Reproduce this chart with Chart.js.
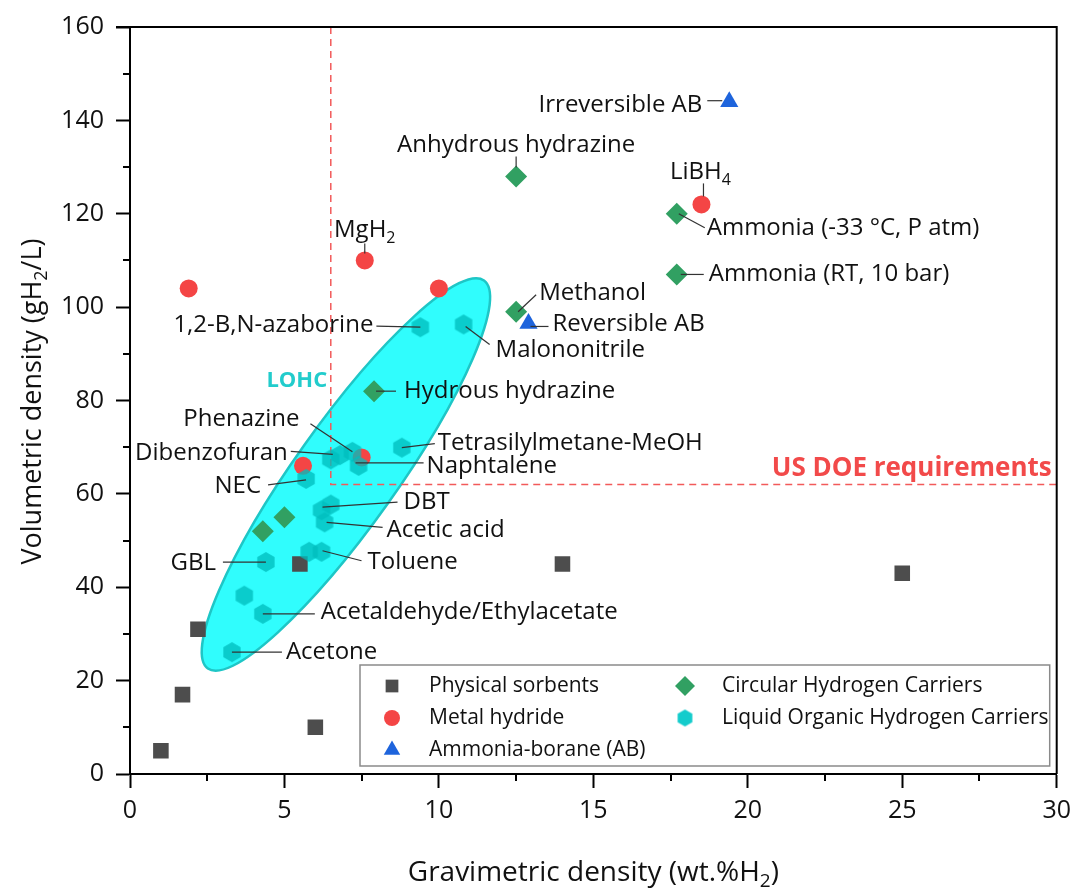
<!DOCTYPE html>
<html>
<head>
<meta charset="utf-8">
<script src="https://cdn.jsdelivr.net/npm/chart.js@4.4.1/dist/chart.umd.min.js"></script>
<style>
  html, body { margin: 0; padding: 0; background: #fff; }
  #wrap { width: 1079px; height: 888px; position: relative; }
</style>
</head>
<body>
<div id="wrap"><canvas id="chart"></canvas></div>
<script>
(function () {
  'use strict';

  // --- Data ---

  var sorbentX = [1.0, 1.7, 2.2, 5.5, 6.0, 14.0, 25.0];
  var sorbentY = [5, 17, 31, 45, 10, 45, 43];

  var hydrideX = [1.9, 7.6, 10.0, 18.5, 5.6, 7.5];
  var hydrideY = [104, 110, 104, 122, 66, 67.8];

  var abX = [19.4, 12.9];
  var abY = [144, 96.5];

  var carrierX = [12.5, 17.7, 17.7, 12.5, 7.9, 4.3, 5.0];
  var carrierY = [128, 120, 107, 99, 82, 52, 55];

  var lohcX = [9.4, 10.8, 8.8, 7.2, 6.5, 6.8, 7.4, 5.7, 6.2, 6.5, 6.3, 5.8, 6.2, 4.4, 3.7, 4.3, 3.3];
  var lohcY = [95.7, 96.3, 69.9, 69, 67.4, 68.3, 66, 63.2, 56.5, 57.7, 53.9, 47.6, 47.6, 45.4, 38.2, 34.3, 26.1];

  var xTicks = [0, 5, 10, 15, 20, 25, 30];
  var yTicks = [0, 20, 40, 60, 80, 100, 120, 140, 160];

  // US DOE targets
  var doeX = 6.5;
  var doeY = 62;

  // LOHC region: ellipse between two tips (data units), half width in px
  var lohcTips = [[2.52, 22.6], [11.46, 105.7]];
  var lohcLabelAt = [5.4, 84.2];

  var seriesNames = ['Physical sorbents', 'Metal hydride', 'Ammonia-borane (AB)',
    'Circular Hydrogen Carriers', 'Liquid Organic Hydrogen Carriers'];

  // --- Styling ---

  var FONT = '"Open Sans", sans-serif';
  var colors = {
    sorbent: '#4d4d4d',
    hydride: '#f44545',
    ab: '#1e64dc',
    carrier: '#31a062',
    lohc: 'rgba(0,190,190,0.78)',
    lohcLegend: '#14cccc'
  };

  function hexCanvas(r, color) {
    var c = document.createElement('canvas');
    var s = Math.ceil(r * 2 + 2);
    c.width = s; c.height = s;
    var g = c.getContext('2d');
    g.fillStyle = color;
    g.beginPath();
    for (var k = 0; k < 6; k++) {
      var a = -Math.PI / 2 + k * Math.PI / 3;
      var px = s / 2 + r * Math.cos(a), py = s / 2 + r * Math.sin(a);
      if (k === 0) g.moveTo(px, py); else g.lineTo(px, py);
    }
    g.closePath();
    g.fill();
    return c;
  }

  var hexPoint = hexCanvas(10, colors.lohc);
  var hexLegend = hexCanvas(8.5, colors.lohcLegend);

  function pts(xs, ys) {
    return xs.map(function (x, i) { return { x: x, y: ys[i] }; });
  }

  // --- Labels with leader lines (offsets in px from the point) ---

  var notes = [
    { set: 2, i: 0, text: 'Irreversible AB', line: [-22, -1, -7, -1], at: [-27, 3], align: 'right' },
    { set: 2, i: 1, text: 'Reversible AB', line: [2, 3, 20, 3], at: [24, 1], align: 'left' },
    { set: 3, i: 0, text: 'Anhydrous hydrazine', line: [0, -20, 0, -9], at: [0, -31], align: 'center' },
    { set: 3, i: 1, text: 'Ammonia (-33 \u00b0C, P atm)', line: [2, 0, 28, 14], at: [30, 14], align: 'left' },
    { set: 3, i: 2, text: 'Ammonia (RT, 10 bar)', line: [4, 0, 27, 0], at: [32, 0], align: 'left' },
    { set: 3, i: 3, text: 'Methanol', line: [2, 0, 20, -17], at: [23, -19], align: 'left' },
    { set: 3, i: 4, text: 'Hydrous hydrazine', line: [2, 0, 22, 0], at: [30, 0], align: 'left' },
    { set: 1, i: 1, text: 'MgH_2', line: [0, -17, 0, -7], at: [0, -30], align: 'center' },
    { set: 1, i: 3, text: 'LiBH_4', line: [2, -21, 2, -8], at: [-1, -32], align: 'center' },
    { set: 4, i: 0, text: '1,2-B,N-azaborine', line: [-44, -1, 0, 0], at: [-47, -2], align: 'right' },
    { set: 4, i: 1, text: 'Malononitrile', line: [2, 2, 26, 20], at: [32, 26], align: 'left' },
    { set: 4, i: 2, text: 'Tetrasilylmetane-MeOH', line: [0, 0, 33, -4], at: [36, -4], align: 'left' },
    { set: 4, i: 3, text: 'Phenazine', line: [-42, -28, 0, 0], at: [-111, -33], align: 'center' },
    { set: 4, i: 4, text: 'Dibenzofuran', line: [-40, -8, 2, -5], at: [-43, -6], align: 'right' },
    { set: 4, i: 6, text: 'Naphtalene', line: [-3, -3, 65, -3], at: [68, 0], align: 'left' },
    { set: 4, i: 7, text: 'NEC', line: [-38, 6, 0, 1], at: [-45, 7], align: 'right' },
    { set: 4, i: 8, text: 'DBT', line: [1, -3, 76, -8], at: [82, -8], align: 'left' },
    { set: 4, i: 10, text: 'Acetic acid', line: [2, 0, 58, 5], at: [62, 8], align: 'left' },
    { set: 4, i: 12, text: 'Toluene', line: [1, -1, 40, 9], at: [46, 10], align: 'left' },
    { set: 4, i: 13, text: 'GBL', line: [-43, 0, 0, 0], at: [-50, 1], align: 'right' },
    { set: 4, i: 15, text: 'Acetaldehyde/Ethylacetate', line: [0, 0, 52, 0], at: [58, -2], align: 'left' },
    { set: 4, i: 16, text: 'Acetone', line: [0, 0, 50, 0], at: [54, 0], align: 'left' }
  ];

  // --- Text with subscripts ("_x" marks a subscript char) ---

  function parseRich(s) {
    var parts = [], buf = '';
    for (var k = 0; k < s.length; k++) {
      if (s[k] === '_' && k + 1 < s.length) {
        if (buf) parts.push({ t: buf, sub: false });
        buf = '';
        parts.push({ t: s[k + 1], sub: true });
        k++;
      } else {
        buf += s[k];
      }
    }
    if (buf) parts.push({ t: buf, sub: false });
    return parts;
  }

  function drawRich(ctx, s, x, y, align, size, weight, color) {
    var parts = parseRich(s);
    var base = (weight || 'normal') + ' ' + size + 'px ' + FONT;
    var small = (weight || 'normal') + ' ' + Math.round(size * 0.68) + 'px ' + FONT;
    var w = 0;
    parts.forEach(function (p) {
      ctx.font = p.sub ? small : base;
      p.w = ctx.measureText(p.t).width;
      w += p.w;
    });
    var cx = align === 'right' ? x - w : (align === 'center' ? x - w / 2 : x);
    ctx.fillStyle = color;
    ctx.textBaseline = 'middle';
    ctx.textAlign = 'left';
    parts.forEach(function (p) {
      ctx.font = p.sub ? small : base;
      ctx.fillText(p.t, cx, p.sub ? y + size * 0.32 : y);
      cx += p.w;
    });
  }

  // --- Plugin: LOHC region, DOE box, labels, frame, legend, titles ---

  var decor = {
    id: 'decor',
    beforeDatasetsDraw: function (chart) {
      var ctx = chart.ctx, xs = chart.scales.x, ys = chart.scales.y, ca = chart.chartArea;

      // LOHC ellipse
      var x1 = xs.getPixelForValue(lohcTips[0][0]), y1 = ys.getPixelForValue(lohcTips[0][1]);
      var x2 = xs.getPixelForValue(lohcTips[1][0]), y2 = ys.getPixelForValue(lohcTips[1][1]);
      var a = Math.hypot(x2 - x1, y2 - y1) / 2;
      ctx.save();
      ctx.beginPath();
      ctx.ellipse((x1 + x2) / 2, (y1 + y2) / 2, a, 51, Math.atan2(y2 - y1, x2 - x1), 0, Math.PI * 2);
      ctx.fillStyle = '#30fdfd';
      ctx.fill();
      ctx.lineWidth = 2.5;
      ctx.strokeStyle = '#1ec6c6';
      ctx.stroke();

      // US DOE requirement lines
      var dx = xs.getPixelForValue(doeX), dy = ys.getPixelForValue(doeY);
      ctx.beginPath();
      ctx.setLineDash([7, 5]);
      ctx.strokeStyle = '#f25a5a';
      ctx.lineWidth = 1.5;
      ctx.moveTo(dx, ca.top);
      ctx.lineTo(dx, dy);
      ctx.lineTo(ca.right, dy);
      ctx.stroke();
      ctx.restore();
    },
    afterDatasetsDraw: function (chart) {
      var ctx = chart.ctx, xs = chart.scales.x, ys = chart.scales.y, ca = chart.chartArea;
      ctx.save();

      // leader lines and labels
      notes.forEach(function (n) {
        var d = chart.data.datasets[n.set].data[n.i];
        var px = xs.getPixelForValue(d.x), py = ys.getPixelForValue(d.y);
        ctx.beginPath();
        ctx.strokeStyle = '#333';
        ctx.lineWidth = 1.2;
        ctx.moveTo(px + n.line[0], py + n.line[1]);
        ctx.lineTo(px + n.line[2], py + n.line[3]);
        ctx.stroke();
        drawRich(ctx, n.text, px + n.at[0], py + n.at[1], n.align, 24, 'normal', '#111');
      });

      drawRich(ctx, 'LOHC', xs.getPixelForValue(lohcLabelAt[0]), ys.getPixelForValue(lohcLabelAt[1]),
        'center', 22, 'bold', '#22cccc');
      drawRich(ctx, 'US DOE requirements', ca.right - 5, ys.getPixelForValue(doeY) - 16,
        'right', 26, 'bold', '#f24a4a');

      // top and right frame
      ctx.beginPath();
      ctx.strokeStyle = '#000';
      ctx.lineWidth = 2;
      ctx.moveTo(ca.left - 14, ca.top);
      ctx.lineTo(ca.right, ca.top);
      ctx.lineTo(ca.right, ca.bottom);
      ctx.stroke();

      // minor ticks
      ctx.beginPath();
      for (var v = 2.5; v < 30; v += 5) {
        var mx = Math.round(xs.getPixelForValue(v));
        ctx.moveTo(mx, ca.bottom);
        ctx.lineTo(mx, ca.bottom + 7);
      }
      for (var w = 10; w < 160; w += 20) {
        var my = Math.round(ys.getPixelForValue(w));
        ctx.moveTo(ca.left, my);
        ctx.lineTo(ca.left - 7, my);
      }
      ctx.stroke();

      // legend
      var lx = ca.left + 230, ly = ca.bottom - 109, lw = ca.right - 7 - lx, lh = 101;
      ctx.fillStyle = '#fff';
      ctx.fillRect(lx, ly, lw, lh);
      ctx.strokeStyle = '#8a8a8a';
      ctx.lineWidth = 1.5;
      ctx.strokeRect(lx, ly, lw, lh);
      var slots = [[0, 0], [0, 1], [0, 2], [1, 0], [1, 1]];
      var sizes = [9, 8, 9.5, 10, 0];
      chart.data.datasets.forEach(function (ds, k) {
        var col = slots[k][0], row = slots[k][1];
        var mx = lx + (col ? 325 : 32), my = ly + 21 + row * 32;
        ctx.fillStyle = ds.pointBackgroundColor;
        if (k === 4) {
          ctx.drawImage(hexLegend, mx - hexLegend.width / 2, my - hexLegend.height / 2);
        } else {
          Chart.helpers.drawPoint(ctx, { pointStyle: ds.pointStyle, radius: sizes[k], borderWidth: 0 }, mx, my);
        }
        drawRich(ctx, seriesNames[k], mx + 37, my, 'left', 21, 'normal', '#111');
      });

      ctx.restore();
    },
    afterDraw: function (chart) {
      var ctx = chart.ctx, ca = chart.chartArea;
      ctx.save();
      drawRich(ctx, 'Gravimetric density (wt.%H_2)', (ca.left + ca.right) / 2, 873, 'center', 28, 'normal', '#111');
      ctx.translate(33, (ca.top + ca.bottom) / 2 + 1);
      ctx.rotate(-Math.PI / 2);
      drawRich(ctx, 'Volumetric density (gH_2/L)', 0, 0, 'center', 27, 'normal', '#111');
      ctx.restore();
    }
  };

  // --- Chart ---

  function axis(min, max, step, ticks) {
    return {
      type: 'linear',
      min: min,
      max: max,
      afterBuildTicks: function (s) { s.ticks = ticks.map(function (v) { return { value: v }; }); },
      grid: { display: true, drawOnChartArea: false, drawTicks: true, tickLength: 14, tickWidth: 2, tickColor: '#000' },
      border: { display: true, color: '#000', width: 2 },
      ticks: { color: '#111', font: { family: FONT, size: 25 }, padding: 8, stepSize: step }
    };
  }

  var xAxis = axis(0, 30, 5, xTicks);
  xAxis.afterFit = function (s) { s.height = 114; };
  var yAxis = axis(0, 160, 20, yTicks);
  yAxis.ticks.padding = 12;
  yAxis.afterFit = function (s) { s.width = 130; };

  new Chart(document.getElementById('chart').getContext('2d'), {
    type: 'scatter',
    data: {
      datasets: [
        { label: seriesNames[0], data: pts(sorbentX, sorbentY), pointStyle: 'rect', pointRadius: 11, pointBackgroundColor: colors.sorbent, pointBorderWidth: 0, order: 1 },
        { label: seriesNames[1], data: pts(hydrideX, hydrideY), pointStyle: 'circle', pointRadius: 9, pointBackgroundColor: colors.hydride, pointBorderWidth: 0, order: 1 },
        { label: seriesNames[2], data: pts(abX, abY), pointStyle: 'triangle', pointRadius: 10.5, pointBackgroundColor: colors.ab, pointBorderWidth: 0, order: 1 },
        { label: seriesNames[3], data: pts(carrierX, carrierY), pointStyle: 'rectRot', pointRadius: 11, pointBackgroundColor: colors.carrier, pointBorderWidth: 0, order: 1 },
        { label: seriesNames[4], data: pts(lohcX, lohcY), pointStyle: hexPoint, pointRadius: 10, pointBackgroundColor: colors.lohc, pointBorderWidth: 0, order: 0 }
      ]
    },
    options: {
      responsive: true,
      maintainAspectRatio: false,
      animation: false,
      events: [],
      layout: { padding: { top: 25, right: 19, left: 0, bottom: 0 } },
      plugins: { legend: { display: false }, tooltip: { enabled: false } },
      scales: { x: xAxis, y: yAxis }
    },
    plugins: [decor]
  });
})();
</script>
</body>
</html>
